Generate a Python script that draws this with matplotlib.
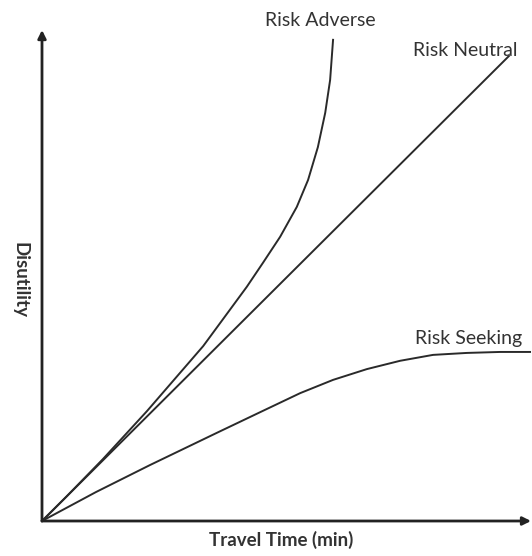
import matplotlib
matplotlib.use("Agg")
import matplotlib.pyplot as plt

# curve points (travel time, disutility)
adverse_x = [0, 0.50, 1.24, 2.14, 3.29, 4.18, 4.51, 4.86, 5.20, 5.43, 5.63, 5.78, 5.88, 5.94]
adverse_y = [0, 0.50, 1.26, 2.24, 3.57, 4.78, 5.27, 5.80, 6.41, 6.96, 7.63, 8.33, 9.00, 9.82]

neutral_x = [0, 9.53]
neutral_y = [0, 9.49]

seeking_x = [0, 1.10, 2.20, 3.57, 4.45, 5.27, 5.94, 6.63, 7.31, 7.98, 8.67, 9.35, 9.96]
seeking_y = [0, 0.59, 1.14, 1.80, 2.22, 2.61, 2.88, 3.10, 3.27, 3.39, 3.43, 3.45, 3.45]

labels = ["Risk Adverse", "Risk Neutral", "Risk Seeking"]

plt.rcParams['font.family'] = ['Lato', 'DejaVu Sans']

fig = plt.figure(figsize=(5.32, 5.56), dpi=100)
ax = fig.add_axes([0, 0, 1, 1])
ax.set_xlim(-42 / 49, 490 / 49)
ax.set_ylim(-35 / 49, 521 / 49)
ax.axis('off')

line_col = '#2a2a2a'
for xs, ys in [(adverse_x, adverse_y), (neutral_x, neutral_y), (seeking_x, seeking_y)]:
    ax.plot(xs, ys, color=line_col, lw=1.4, solid_joinstyle='round')

# axes with arrow heads
arrow = dict(arrowstyle='-|>', color='#222222', lw=2, mutation_scale=12, shrinkA=0, shrinkB=0)
ax.annotate('', xy=(0, 10.02), xytext=(0, 0), arrowprops=arrow)
ax.annotate('', xy=(9.98, 0), xytext=(0, 0), arrowprops=arrow)

txt = '#333333'
ax.text(5.67, 10.22, labels[0], ha='center', va='center', fontsize=14, color=txt)
ax.text(7.57, 9.61, labels[1], ha='left', va='center', fontsize=14, color=txt)
ax.text(7.61, 3.73, labels[2], ha='left', va='center', fontsize=14, color=txt)

ax.text(4.88, -0.39, 'Travel Time (min)', ha='center', va='center', fontsize=13.5,
        fontweight='bold', color=txt)
ax.text(-0.45, 4.92, 'Disutility', ha='center', va='center', fontsize=13.5,
        fontweight='bold', color=txt, rotation=270)

fig.savefig('out.png', dpi=100, facecolor='white')
